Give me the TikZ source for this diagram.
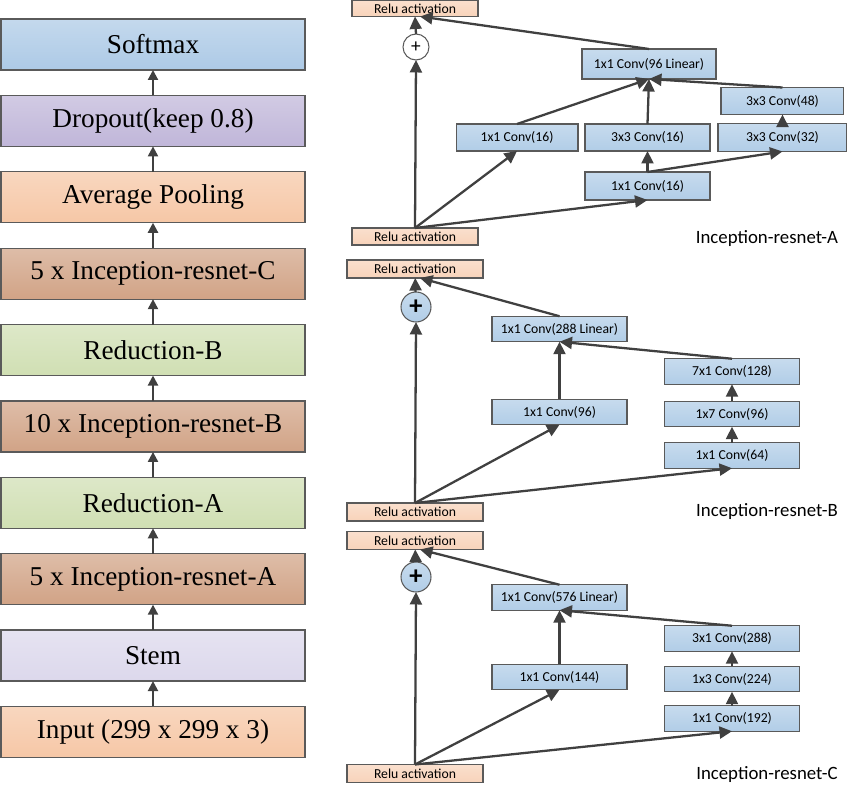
\documentclass[tikz,border=0pt]{standalone}
\usepackage{fontspec}
\setmainfont{Liberation Serif}
\newfontfamily\calibri{Carlito}
\usetikzlibrary{positioning,arrows.meta}

\definecolor{edgegray}{HTML}{5A5A5A}
\definecolor{arrowgray}{HTML}{404040}
\definecolor{softblue}{HTML}{ADCAE6}
\definecolor{droppurple}{HTML}{C0B6D9}
\definecolor{poolpeach}{HTML}{F6C7A6}
\definecolor{blockbrown}{HTML}{D1A386}
\definecolor{redgreen}{HTML}{D0DFB3}
\definecolor{stemlilac}{HTML}{DCD8EC}
\definecolor{convblue}{HTML}{B1CDE7}
\definecolor{relupeach}{HTML}{F8D3BA}

\tikzset{
grad/.style={top color=#1!72!white, bottom color=#1},
lbox/.style={draw=edgegray, line width=0.7pt, minimum width=6.08cm, minimum height=1.02cm, inner sep=0pt, outer sep=0pt, font=\fontsize{15.5}{18}\selectfont},
conv/.style={draw=edgegray, line width=0.6pt, grad=convblue, minimum width=2.7cm, minimum height=0.51cm, inner sep=0pt, outer sep=0pt, font=\calibri\fontsize{7.8}{9}\selectfont},
relu/.style={conv, grad=relupeach, minimum width=2.72cm, minimum height=0.36cm},
plusnode/.style={circle, draw=edgegray, line width=0.6pt, grad=convblue, minimum size=0.6cm, inner sep=0pt, outer sep=0pt, font=\calibri\bfseries\fontsize{15}{15}\selectfont},
larr/.style={draw=arrowgray, line width=1.2pt, -{Triangle[length=2mm,width=2mm]}},
arr/.style={draw=arrowgray, line width=1.3pt, -{Triangle[length=2.5mm,width=2.4mm]}},
blockname/.style={font=\calibri\fontsize{10.7}{12}\selectfont}
}

\begin{document}
\begin{tikzpicture}[x=0.02cm,y=-0.02cm]
\useasboundingbox (0,0) rectangle (850,786);

\node[lbox, grad=softblue] (softmax) at (153,44.5) {Softmax};
\node[lbox, grad=droppurple, below=0.508cm of softmax] (dropout) {Dropout(keep 0.8)};
\node[lbox, grad=poolpeach, below=0.508cm of dropout] (avgpool) {Average Pooling};
\node[lbox, grad=blockbrown, below=0.508cm of avgpool] (incC) {5 x Inception-resnet-C};
\node[lbox, grad=redgreen, below=0.508cm of incC] (redB) {Reduction-B};
\node[lbox, grad=blockbrown, below=0.508cm of redB] (incB) {10 x Inception-resnet-B};
\node[lbox, grad=redgreen, below=0.508cm of incB] (redA) {Reduction-A};
\node[lbox, grad=blockbrown, below=0.508cm of redA] (incA) {5 x Inception-resnet-A};
\node[lbox, grad=stemlilac, below=0.508cm of incA] (stem) {Stem};
\node[lbox, grad=poolpeach, below=0.508cm of stem] (input) {Input (299 x 299 x 3)};

\draw[larr] (input) -- (stem);
\draw[larr] (stem) -- (incA);
\draw[larr] (incA) -- (redA);
\draw[larr] (redA) -- (incB);
\draw[larr] (incB) -- (redB);
\draw[larr] (redB) -- (incC);
\draw[larr] (incC) -- (avgpool);
\draw[larr] (avgpool) -- (dropout);
\draw[larr] (dropout) -- (softmax);

\node[relu, minimum width=2.52cm, minimum height=0.32cm] (reluAout) at (415,8.5) {Relu activation};
\node[plusnode, top color=white, bottom color=white, minimum size=0.52cm, font=\calibri\fontsize{11}{11}\selectfont] (plusA) at (416,47) {+};
\node[conv, minimum width=2.68cm, minimum height=0.6cm] (linA) at (649,64) {1x1 Conv(96 Linear)};
\node[conv, minimum width=2.5cm, minimum height=0.56cm] (c11A) at (647.5,186) {1x1 Conv(16)};
\node[conv, minimum width=2.5cm, minimum height=0.54cm, above=0.42cm of c11A] (c33A) {3x3 Conv(16)};
\node[conv, minimum width=2.44cm, minimum height=0.54cm, left=0.14cm of c33A] (c16A) {1x1 Conv(16)};
\node[conv, minimum width=2.58cm, minimum height=0.56cm, right=0.16cm of c33A] (c32A) {3x3 Conv(32)};
\node[conv, minimum width=2.46cm, minimum height=0.54cm, above=0.18cm of c32A] (c48A) {3x3 Conv(48)};
\node[relu, minimum width=2.52cm, minimum height=0.34cm] (reluAin) at (415,236.5) {Relu activation};
\node[blockname] (nameA) at (767,239) {Inception-resnet-A};

\draw[arr] (reluAin.north) -- (plusA.south);
\draw[arr] (reluAin.north) -- (c16A.south);
\draw[arr] (reluAin.north) -- (c11A.south);
\draw[arr] (c11A.north) -- (c33A.south);
\draw[arr] (c11A.north) -- (c32A.south);
\draw[arr] (c32A.north) -- (c48A.south);
\draw[arr] (c16A.north) -- (linA.south);
\draw[arr] (c33A.north) -- (linA.south);
\draw[arr] (c48A.north) -- (linA.south);
\draw[arr] (linA.north) -- ([xshift=0.1cm]reluAout.south);
\draw[arr] (plusA.north) -- (reluAout.south);

\node[relu] (reluBout) at (415,269) {Relu activation};
\node[plusnode] (plusB) at (416,307) {+};
\node[conv] (linB) at (559.5,329) {1x1 Conv(288 Linear)};
\node[conv] (c71B) at (732,371.5) {7x1 Conv(128)};
\node[conv, below=0.34cm of c71B] (c17B) {1x7 Conv(96)};
\node[conv, below=0.32cm of c17B] (c64B) {1x1 Conv(64)};
\node[conv] (c96B) at (559.5,412) {1x1 Conv(96)};
\node[relu] (reluBin) at (415,512) {Relu activation};
\node[blockname] (nameB) at (767,512) {Inception-resnet-B};

\draw[arr] (reluBin.north) -- (plusB.south);
\draw[arr] (reluBin.north) -- (c96B.south);
\draw[arr] (reluBin.north) -- (c64B.south);
\draw[arr] (c64B) -- (c17B);
\draw[arr] (c17B) -- (c71B);
\draw[arr] (c96B) -- (linB);
\draw[arr] (c71B.north) -- (linB.south);
\draw[arr] (linB.north) -- ([xshift=0.1cm]reluBout.south);
\draw[arr] (plusB) -- (reluBout);

\node[relu] (reluCout) at (415,540.5) {Relu activation};
\node[plusnode] (plusC) at (416,577) {+};
\node[conv] (linC) at (559.5,597.5) {1x1 Conv(576 Linear)};
\node[conv] (c31C) at (732,638.5) {3x1 Conv(288)};
\node[conv, below=0.3cm of c31C] (c13C) {1x3 Conv(224)};
\node[conv, below=0.28cm of c13C] (c192C) {1x1 Conv(192)};
\node[conv] (c144C) at (559.5,677) {1x1 Conv(144)};
\node[relu] (reluCin) at (415,773.5) {Relu activation};
\node[blockname] (nameC) at (767,775) {Inception-resnet-C};

\draw[arr] (reluCin.north) -- (plusC.south);
\draw[arr] (reluCin.north) -- (c144C.south);
\draw[arr] (reluCin.north) -- (c192C.south);
\draw[arr] (c192C) -- (c13C);
\draw[arr] (c13C) -- (c31C);
\draw[arr] (c144C) -- (linC);
\draw[arr] (c31C.north) -- (linC.south);
\draw[arr] (linC.north) -- ([xshift=0.1cm]reluCout.south);
\draw[arr] (plusC) -- (reluCout);
\end{tikzpicture}
\end{document}
